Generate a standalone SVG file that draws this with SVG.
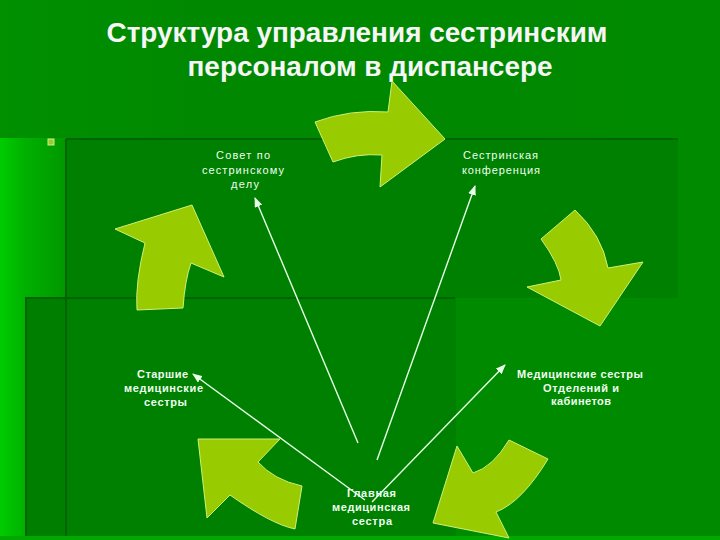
<svg xmlns="http://www.w3.org/2000/svg" width="720" height="540" viewBox="0 0 720 540">
<defs>
<linearGradient id="bg" x1="0" y1="0" x2="1" y2="0">
<stop offset="0" stop-color="#00cc00"/>
<stop offset="0.035" stop-color="#00b000"/>
<stop offset="0.09" stop-color="#009800"/>
<stop offset="0.2" stop-color="#008c00"/>
<stop offset="1" stop-color="#008a00"/>
</linearGradient>
<linearGradient id="top" x1="0" y1="0" x2="1" y2="0">
<stop offset="0" stop-color="#009000"/>
<stop offset="0.3" stop-color="#008800"/>
<stop offset="1" stop-color="#008a00"/>
</linearGradient>
<marker id="ah" viewBox="0 0 10 8" refX="9" refY="4" markerWidth="10" markerHeight="8" markerUnits="userSpaceOnUse" orient="auto">
<path d="M0,0 L10,4 L0,8 Z" fill="#eaffea"/>
</marker>
<style>
.title{font-family:"Liberation Sans",Arial,sans-serif;font-weight:bold;font-size:28px;fill:#f6f6f6;text-anchor:middle}
.lbl{font-family:"Liberation Sans",Arial,sans-serif;font-size:11px;fill:#eefff0;text-anchor:middle}
.b{font-weight:bold}
.arrow{fill:#99cc00;stroke:#ccf07a;stroke-width:1;stroke-linejoin:miter}
.conn{stroke:#e6ffe6;stroke-width:1.4;fill:none;marker-end:url(#ah)}
.edge{stroke:#006400;stroke-width:2}
</style>
</defs>

<g id="background">
<rect x="0" y="0" width="720" height="540" fill="url(#bg)"/>
<rect x="0" y="0" width="720" height="138" fill="url(#top)"/>
<rect x="66" y="138" width="612" height="160" fill="#008000"/>
<rect x="25" y="297" width="431" height="241" fill="#007e00"/>
<rect x="456" y="300" width="258" height="238" fill="#008a00"/>
<rect x="66" y="297" width="390" height="241" fill="#008000"/>
<line class="edge" x1="66" y1="139" x2="678" y2="139"/>
<line class="edge" x1="66" y1="139" x2="66" y2="537"/>
<line class="edge" x1="25" y1="298" x2="455" y2="298"/>
<line class="edge" x1="26" y1="298" x2="26" y2="537"/>
<rect x="0" y="536" width="720" height="4" fill="#00a800"/>
<rect x="48" y="139" width="6" height="6" fill="#99cc33" stroke="#ccee88" stroke-width="1"/>
</g>

<g id="title">
<text class="title" x="357" y="42" textLength="501" lengthAdjust="spacingAndGlyphs">Структура управления сестринским</text>
<text class="title" x="370" y="76" textLength="365" lengthAdjust="spacingAndGlyphs">персоналом в диспансере</text>
</g>

<g id="cycle-arrows">
<path id="arrow-top" class="arrow" d="M315,122 Q350,109 388,112 L392,81 L445,139 L380,187 L382,155 Q357,153 333,162 Z"/>
<path id="arrow-right" class="arrow" d="M541,239 L575,210 Q602,235 608,268 L643,262 L600,326 L527,287 L561,280 Q559,264 541,239 Z"/>
<path id="arrow-bottom-right" class="arrow" d="M509,440 L548,459 Q522,502 496,512 L509,538 L433,523 L457,446 L473,473 Q493,467 509,440 Z"/>
<path id="arrow-bottom-left" class="arrow" d="M198,439 L280,439 L258,462 Q274,480 302,486 L295,529 Q271,524 230,495 L207,518 Z"/>
<path id="arrow-left" class="arrow" d="M115,229 L192,205 L224,277 L191,263 Q185,280 183,308 L137,310 Q135,283 145,243 Z"/>
</g>

<g id="connectors">
<line class="conn" x1="358" y1="443" x2="255" y2="198"/>
<line class="conn" x1="377" y1="460" x2="475" y2="186"/>
<line class="conn" x1="365" y1="500" x2="193" y2="374"/>
<line class="conn" x1="372" y1="502" x2="505" y2="365"/>
</g>

<g id="node-sovet">
<text class="lbl" x="243" y="159" textLength="54">Совет по</text>
<text class="lbl" x="243" y="174" textLength="82">сестринскому</text>
<text class="lbl" x="245" y="188" textLength="28">делу</text>
</g>

<g id="node-konferencia">
<text class="lbl" x="500.5" y="159" textLength="75">Сестринская</text>
<text class="lbl" x="501" y="174" textLength="78">конференция</text>
</g>

<g id="node-medsestry">
<text class="lbl b" x="580" y="378" textLength="126">Медицинские сестры</text>
<text class="lbl b" x="581" y="392" textLength="76">Отделений и</text>
<text class="lbl b" x="581" y="405" textLength="60">кабинетов</text>
</g>

<g id="node-glavnaya">
<text class="lbl b" x="371.5" y="497" textLength="49">Главная</text>
<text class="lbl b" x="371" y="511" textLength="78">медицинская</text>
<text class="lbl b" x="372" y="525" textLength="40">сестра</text>
</g>

<g id="node-starshie">
<text class="lbl b" x="162.5" y="378" textLength="51">Старшие</text>
<text class="lbl b" x="163.5" y="392" textLength="79">медицинские</text>
<text class="lbl b" x="165.5" y="406" textLength="43">сестры</text>
</g>
</svg>
